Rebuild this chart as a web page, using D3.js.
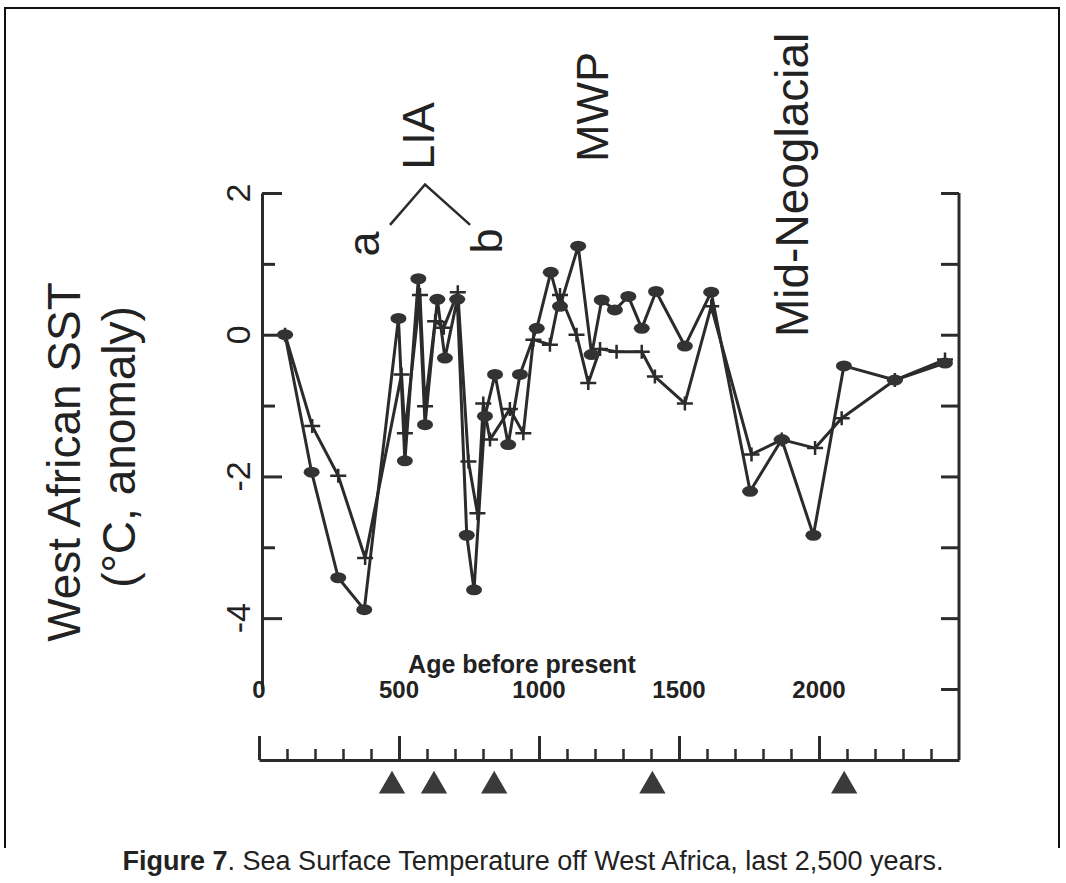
<!DOCTYPE html>
<html>
<head>
<meta charset="utf-8">
<script src="https://cdn.jsdelivr.net/npm/d3@7"></script>
<style>
  body { margin: 0; background: #fff; }
  text { font-family: "Liberation Sans", Arial, sans-serif; fill: #222; }
</style>
</head>
<body>
<div id="chart"></div>
<script>
// Sea surface temperature anomaly, two records (dots and crosses)
var dotAge = [93, 188, 283, 376, 498, 521, 569, 593, 637, 664, 708, 742, 768, 807, 843, 890, 932, 992, 1042, 1075,
  1140, 1188, 1224, 1271, 1319, 1367, 1418, 1521, 1615, 1754, 1867, 1980, 2089, 2271, 2450];
var dotSST = [0, -1.94, -3.43, -3.88, 0.23, -1.78, 0.79, -1.27, 0.50, -0.33, 0.50, -2.83, -3.6, -1.15, -0.56, -1.55, -0.56, 0.09, 0.88, 0.40,
  1.25, -0.28, 0.49, 0.35, 0.54, 0.09, 0.61, -0.16, 0.6, -2.21, -1.48, -2.83, -0.44, -0.64, -0.4];

var crossAge = [93, 190, 283, 379, 509, 521, 575, 593, 629, 660, 710, 748, 780, 801, 825, 896, 944, 980, 1039, 1075,
  1134, 1176, 1218, 1277, 1367, 1414, 1521, 1615, 1759, 1867, 1986, 2081, 2271, 2450];
var crossSST = [0, -1.29, -1.99, -3.15, -0.56, -1.39, 0.56, -1.01, 0.19, 0.1, 0.6, -1.79, -2.52, -0.97, -1.48, -1.05, -1.39, -0.07, -0.14, 0.56,
  0.0, -0.68, -0.2, -0.24, -0.24, -0.59, -0.97, 0.4, -1.69, -1.48, -1.6, -1.18, -0.64, -0.35];

// dated levels (triangles under the axis)
var markerAge = [475, 625, 840, 1405, 2090];

var xTicks = [0, 500, 1000, 1500, 2000];
var yTicks = [2, 0, -2, -4];

var svgWidth = 1066;
var svgHeight = 883;
var ink = "#2b2b2b";

var svg = d3.select("#chart")
  .append("svg")
  .attr("width", svgWidth)
  .attr("height", svgHeight);

svg.append("rect")
  .attr("width", svgWidth)
  .attr("height", svgHeight)
  .attr("fill", "#fff");

// frame around the figure
svg.append("path")
  .attr("d", "M5,848 V8 H1059 V848")
  .attr("fill", "none")
  .attr("stroke", "#111")
  .attr("stroke-width", 2);

var xScale = d3.scaleLinear().domain([0, 2500]).range([259, 959]);
var yScale = d3.scaleLinear().domain([-5, 2]).range([689, 193]);
var baseY = 760;

// left axis, ticks pointing in
var leftX = 262;
svg.append("g")
  .attr("transform", `translate(${leftX},0)`)
  .call(d3.axisRight(yScale).tickValues([2, 0, -2, -4]).tickSize(20).tickSizeOuter(0).tickFormat(""))
  .call(g => g.select(".domain").attr("stroke-width", 3));
svg.append("g")
  .attr("transform", `translate(${leftX},0)`)
  .call(d3.axisRight(yScale).tickValues([1, -1, -3]).tickSize(13).tickFormat(""))
  .call(g => g.select(".domain").remove());
svg.selectAll(".tick line").attr("stroke", ink).attr("stroke-width", 3);
svg.selectAll(".domain").attr("stroke", ink);

// y tick labels, rotated
svg.selectAll(".ylab")
  .data(yTicks)
  .enter()
  .append("text")
  .attr("class", "ylab")
  .attr("transform", d => `translate(250, ${yScale(d)}) rotate(-90)`)
  .attr("text-anchor", "middle")
  .attr("font-size", "34px")
  .text(d => d);

// right axis
var rightX = xScale(2500);
svg.append("line")
  .attr("x1", rightX).attr("x2", rightX)
  .attr("y1", yScale(2)).attr("y2", baseY)
  .attr("stroke", ink).attr("stroke-width", 3);
svg.append("g")
  .attr("transform", `translate(${rightX},0)`)
  .call(d3.axisLeft(yScale).ticks(7).tickSize(18).tickFormat(""))
  .call(g => g.select(".domain").remove())
  .call(g => g.selectAll("line").attr("stroke", ink).attr("stroke-width", 3));

// bottom age axis
svg.append("g")
  .attr("transform", `translate(0,${baseY})`)
  .call(d3.axisTop(xScale).tickValues(d3.range(100, 2500, 100).filter(d => d % 500 != 0)).tickSize(11).tickSizeOuter(0).tickFormat(""))
  .call(g => g.select(".domain").attr("stroke", ink).attr("stroke-width", 3))
  .call(g => g.selectAll("line").attr("stroke", ink).attr("stroke-width", 2.5));
svg.append("g")
  .attr("transform", `translate(0,${baseY})`)
  .call(d3.axisTop(xScale).tickValues(xTicks).tickSize(24).tickFormat(""))
  .call(g => g.select(".domain").remove())
  .call(g => g.selectAll("line").attr("stroke", ink).attr("stroke-width", 3));

svg.selectAll(".xlab")
  .data(xTicks)
  .enter()
  .append("text")
  .attr("class", "xlab")
  .attr("x", d => xScale(d))
  .attr("y", 698)
  .attr("text-anchor", "middle")
  .attr("font-size", "24px")
  .attr("font-weight", "bold")
  .text(d => d);

svg.append("text")
  .attr("x", 522)
  .attr("y", 673)
  .attr("text-anchor", "middle")
  .attr("font-size", "25px")
  .attr("font-weight", "bold")
  .text("Age before present");

// triangles for dated levels
svg.selectAll(".tri")
  .data(markerAge)
  .enter()
  .append("path")
  .attr("class", "tri")
  .attr("transform", d => `translate(${xScale(d)}, 786)`)
  .attr("d", d3.symbol(d3.symbolTriangle).size(300))
  .attr("fill", "#3a3a3a");

// y axis title
svg.append("text")
  .attr("transform", "translate(80, 462) rotate(-90)")
  .attr("text-anchor", "middle")
  .attr("font-size", "46px")
  .text("West African SST");
svg.append("text")
  .attr("transform", "translate(135, 447) rotate(-90)")
  .attr("text-anchor", "middle")
  .attr("font-size", "46px")
  .text("(°C, anomaly)");

// the two records
var dots = dotAge.map((a, i) => ({ age: a, sst: dotSST[i] }));
var crosses = crossAge.map((a, i) => ({ age: a, sst: crossSST[i] }));

var line = d3.line()
  .x(d => xScale(d.age))
  .y(d => yScale(d.sst));

svg.append("path")
  .datum(crosses)
  .attr("d", line)
  .attr("fill", "none")
  .attr("stroke", ink)
  .attr("stroke-width", 3)
  .attr("stroke-linejoin", "round");

svg.append("path")
  .datum(dots)
  .attr("d", line)
  .attr("fill", "none")
  .attr("stroke", ink)
  .attr("stroke-width", 3)
  .attr("stroke-linejoin", "round");

svg.selectAll(".cross")
  .data(crosses)
  .enter()
  .append("path")
  .attr("class", "cross")
  .attr("d", d => {
    var cx = xScale(d.age), cy = yScale(d.sst);
    return `M${cx - 8},${cy} H${cx + 8} M${cx},${cy - 7} V${cy + 7}`;
  })
  .attr("stroke", ink)
  .attr("stroke-width", 2.5);

svg.selectAll(".dot")
  .data(dots)
  .enter()
  .append("ellipse")
  .attr("class", "dot")
  .attr("cx", d => xScale(d.age))
  .attr("cy", d => yScale(d.sst))
  .attr("rx", 8)
  .attr("ry", 5.5)
  .attr("fill", "#333");

// period labels
function vlabel(txt, x, y, size, anchor) {
  svg.append("text")
    .attr("transform", `translate(${x}, ${y}) rotate(-90)`)
    .attr("text-anchor", anchor || "middle")
    .attr("font-size", size + "px")
    .text(txt);
}
vlabel("LIA", 434, 136, 45);
vlabel("MWP", 608, 107, 45);
vlabel("Mid-Neoglacial", 808, 337, 46, "start");
vlabel("a", 379, 244, 45);
vlabel("b", 502, 241, 45);

// LIA bracket
var bracket = [[468, 1.55], [593, 2.12], [754, 1.55]];
svg.append("path")
  .attr("d", d3.line().x(d => xScale(d[0])).y(d => yScale(d[1]))(bracket))
  .attr("fill", "none")
  .attr("stroke", ink)
  .attr("stroke-width", 2.5);

// caption
var cap = svg.append("text")
  .attr("x", 533)
  .attr("y", 870)
  .attr("text-anchor", "middle")
  .attr("font-size", "27px");
cap.append("tspan").attr("font-weight", "bold").text("Figure 7");
cap.append("tspan").text(". Sea Surface Temperature off West Africa, last 2,500 years.");
</script>
</body>
</html>
